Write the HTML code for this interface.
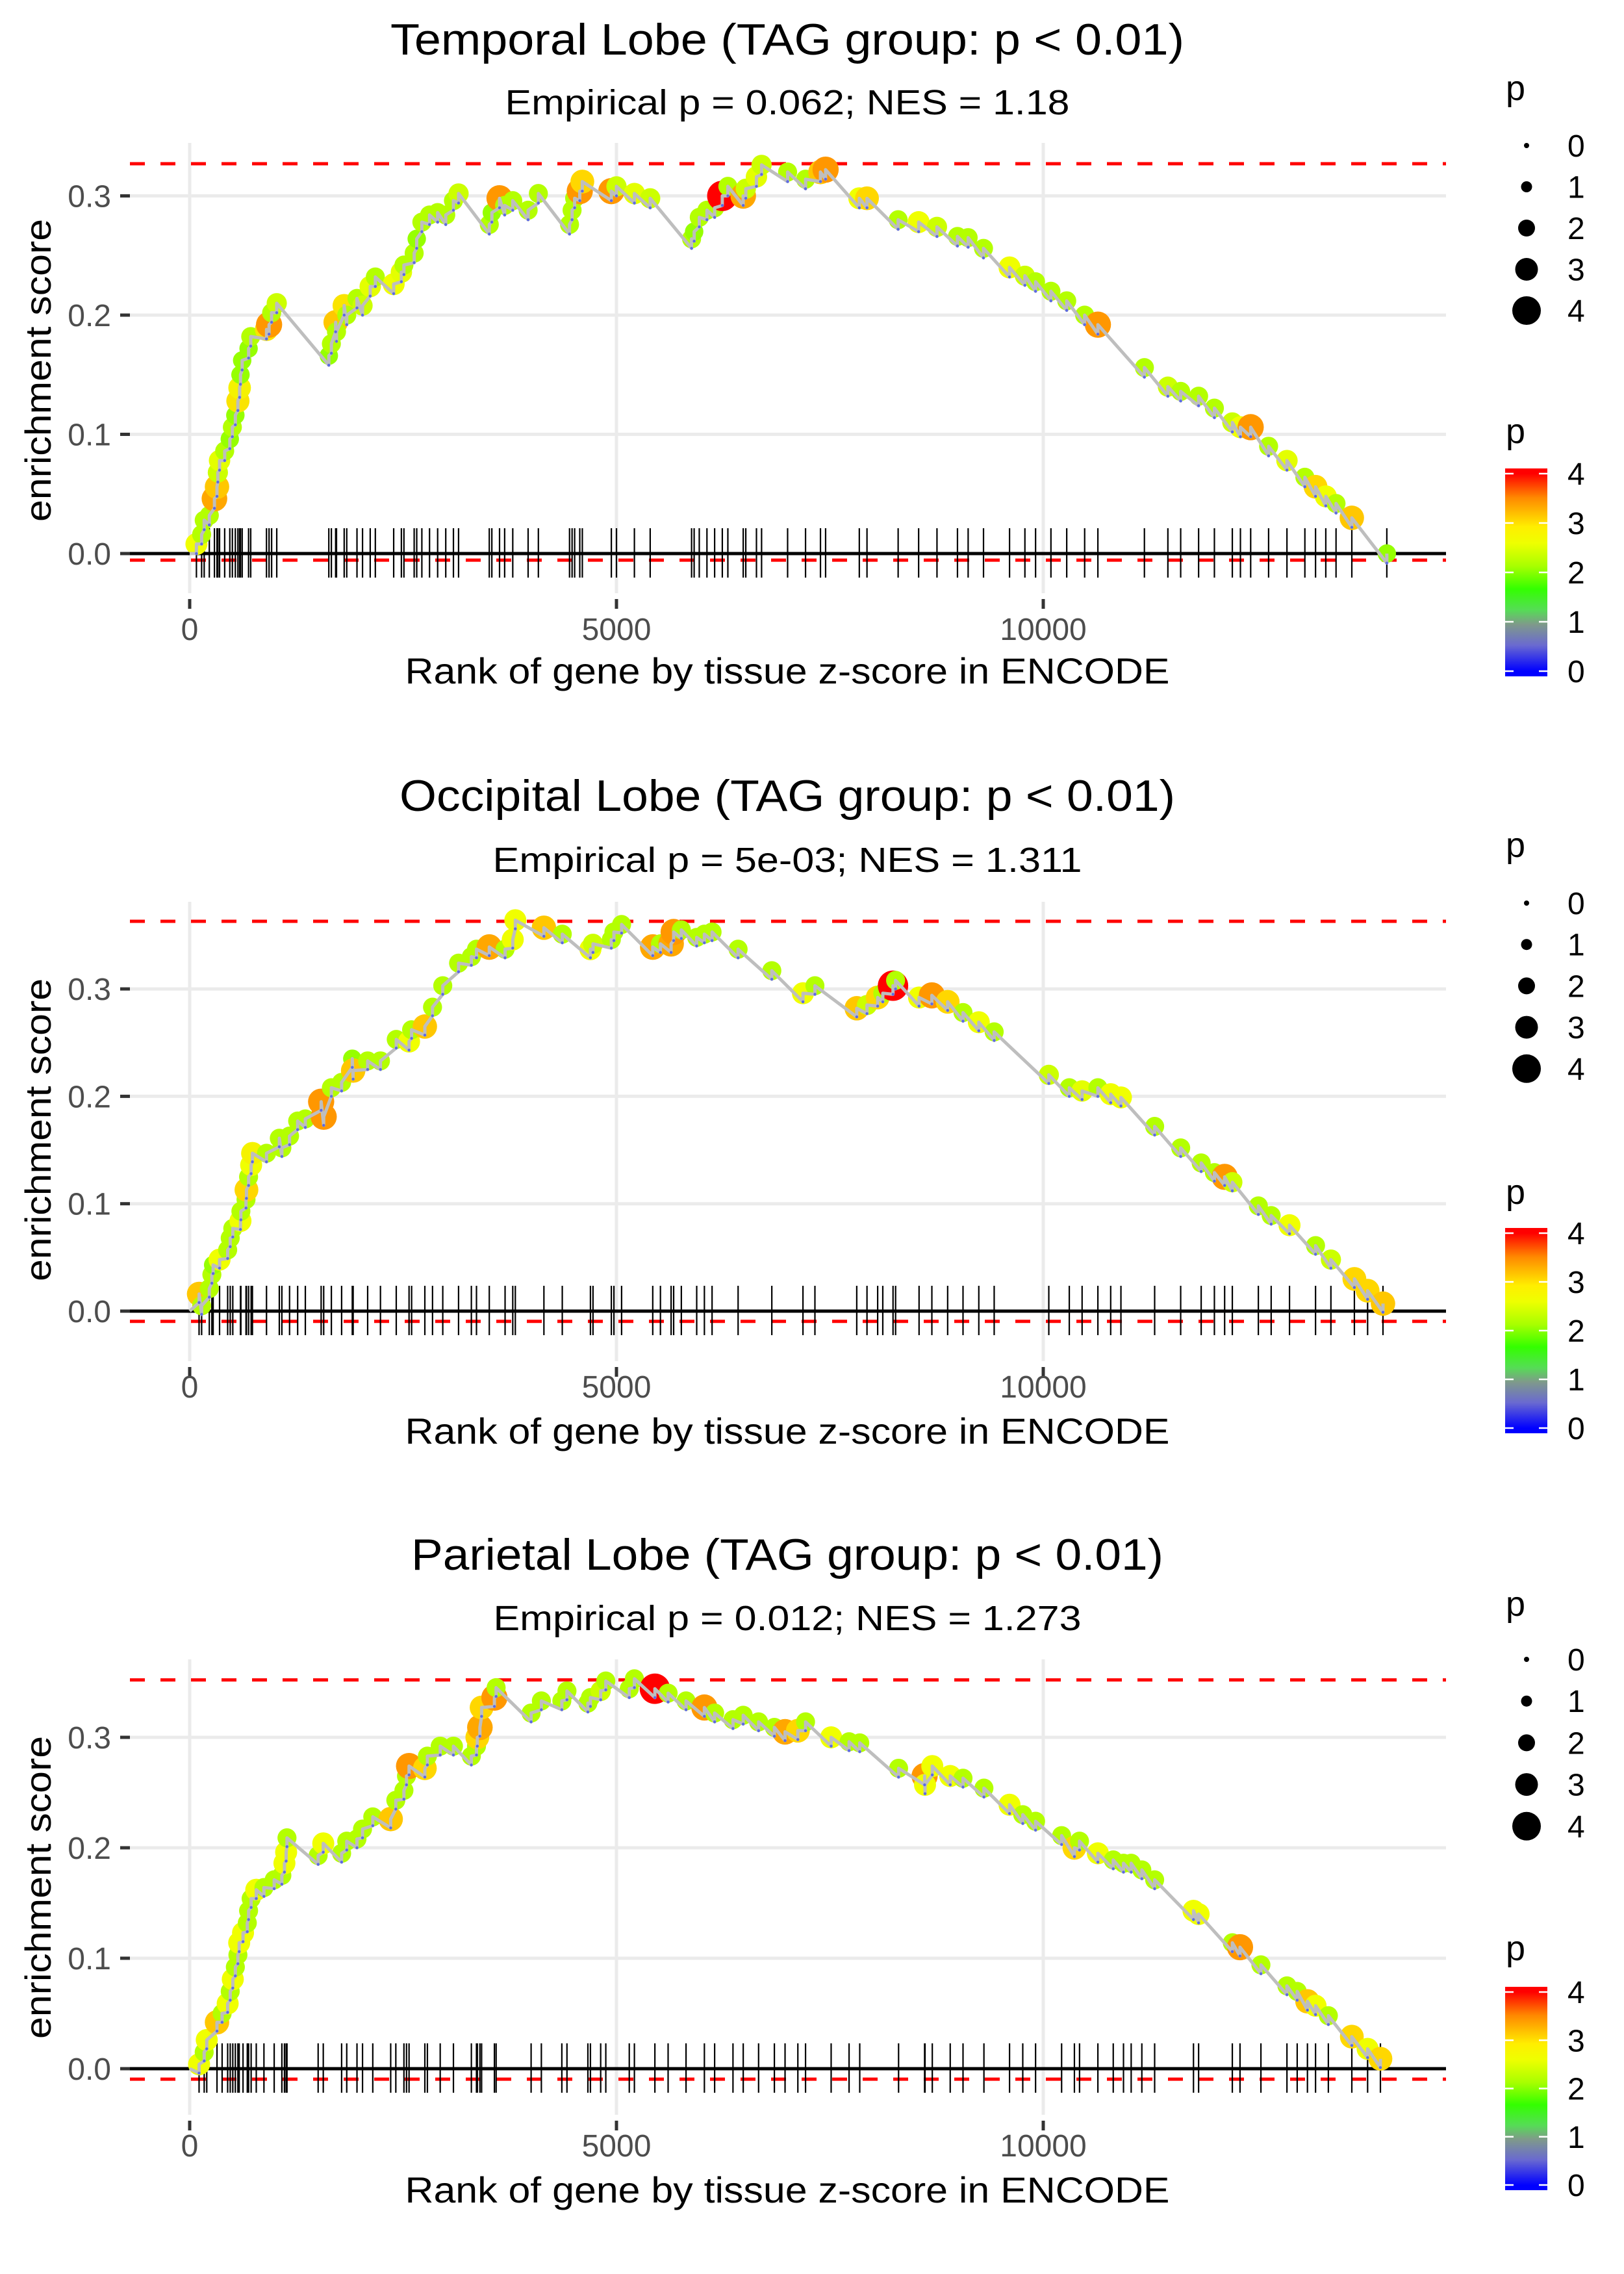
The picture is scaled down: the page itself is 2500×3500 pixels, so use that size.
<!DOCTYPE html>
<html><head><meta charset="utf-8">
<style>
html,body{margin:0;padding:0;background:#fff;}
svg{display:block;font-family:"Liberation Sans",Arial,sans-serif;}
</style></head>
<body>
<svg id="chart" width="2500" height="3500" viewBox="0 0 2500 3500" xmlns="http://www.w3.org/2000/svg">
<defs>
<linearGradient id="pgrad" x1="0" y1="1" x2="0" y2="0">
<stop offset="0.025" stop-color="#0000ff"/>
<stop offset="0.15" stop-color="#6a6ad0"/>
<stop offset="0.25" stop-color="#7f9a8a"/>
<stop offset="0.32" stop-color="#55dd55"/>
<stop offset="0.42" stop-color="#33ff00"/>
<stop offset="0.53" stop-color="#a8ff00"/>
<stop offset="0.64" stop-color="#eeff00"/>
<stop offset="0.72" stop-color="#ffee00"/>
<stop offset="0.86" stop-color="#ff8800"/>
<stop offset="0.975" stop-color="#ff0000"/>
</linearGradient>
</defs>
</svg>
<script>
// ---------- data ----------
const p1Title = "Temporal Lobe (TAG group: p < 0.01)";
const p1Sub = "Empirical p = 0.062; NES = 1.18";
const p1Ranks = [79,140,170,230,290,320,330,350,410,470,500,535,565,585,595,615,690,715,900,930,960,1020,1630,1660,1710,1720,1810,1840,1960,2025,2115,2175,2390,2480,2510,2630,2660,2720,2810,2905,3000,3090,3150,3510,3540,3630,3690,3785,3965,4085,4450,4480,4510,4570,4600,4940,5000,5210,5395,5880,5910,5970,6060,6150,6240,6305,6485,6515,6640,6700,7005,7215,7390,7450,7845,7935,8300,8540,8755,8995,9120,9300,9605,9785,9910,10090,10275,10485,10640,11185,11460,11610,11820,12005,12215,12310,12430,12640,12855,13065,13190,13310,13430,13615,14025];
const p1ES = [0.008,0.016,0.028,0.032,0.046,0.056,0.068,0.078,0.086,0.096,0.106,0.116,0.128,0.139,0.150,0.162,0.172,0.182,0.188,0.192,0.202,0.210,0.166,0.176,0.194,0.186,0.208,0.200,0.214,0.208,0.224,0.232,0.226,0.236,0.242,0.252,0.264,0.278,0.284,0.286,0.284,0.296,0.302,0.276,0.286,0.298,0.292,0.296,0.288,0.302,0.276,0.288,0.298,0.304,0.312,0.304,0.308,0.302,0.298,0.264,0.270,0.282,0.288,0.290,0.300,0.308,0.300,0.306,0.316,0.326,0.320,0.314,0.320,0.322,0.298,0.298,0.280,0.278,0.274,0.266,0.265,0.256,0.240,0.233,0.228,0.220,0.212,0.200,0.192,0.156,0.140,0.136,0.132,0.122,0.110,0.106,0.106,0.090,0.078,0.064,0.056,0.048,0.042,0.030,0.000];
const p1P = [2.6,2.1,2.1,2.1,3.2,3.0,2.3,2.5,2.1,2.0,2.1,2.0,2.8,2.7,2.0,2.0,2.0,2.1,2.8,3.3,2.1,2.3,2.0,2.1,3.0,2.1,2.8,2.1,2.1,2.3,2.5,2.1,2.6,2.5,2.1,2.1,2.0,2.1,2.1,2.1,2.1,2.1,2.3,2.1,2.0,3.3,2.1,2.1,2.1,2.1,2.1,2.1,2.1,3.3,2.9,3.3,2.3,2.5,2.3,2.1,2.0,2.1,2.1,2.1,4.0,2.1,3.2,2.3,2.5,2.3,2.1,2.1,3.0,3.3,2.6,2.9,2.1,2.6,2.3,2.1,2.1,2.1,2.6,2.3,2.1,2.1,2.1,2.1,3.3,2.1,2.3,2.1,2.1,2.1,2.3,2.6,3.3,2.1,2.5,2.1,2.9,2.6,2.1,3.0,2.0];
const p1Bounds = [0.327,-0.0055];

const p2Title = "Occipital Lobe (TAG group: p < 0.01)";
const p2Sub = "Empirical p = 5e-03; NES = 1.311";
const p2Ranks = [110,140,230,260,275,350,445,475,505,595,600,660,665,690,720,735,900,1050,1080,1170,1265,1355,1540,1570,1660,1780,1905,1915,2085,2235,2420,2570,2600,2755,2845,2965,3150,3300,3360,3510,3695,3785,3815,4150,4365,4695,4725,4940,4970,5060,5425,5515,5640,5670,5760,5940,6030,6120,6425,6820,7185,7325,7815,7935,8060,8120,8240,8270,8545,8695,8880,9060,9245,9425,10065,10305,10455,10640,10790,10910,11305,11610,11850,12005,12125,12215,12520,12670,12885,13190,13370,13645,13800,13980];
const p2ES = [0.016,0.005,0.021,0.034,0.043,0.048,0.057,0.068,0.077,0.084,0.093,0.104,0.113,0.125,0.136,0.147,0.147,0.161,0.152,0.163,0.177,0.179,0.195,0.181,0.208,0.213,0.235,0.224,0.233,0.233,0.253,0.251,0.262,0.265,0.283,0.303,0.324,0.330,0.337,0.339,0.337,0.346,0.364,0.357,0.351,0.337,0.342,0.346,0.353,0.360,0.339,0.342,0.342,0.353,0.355,0.348,0.351,0.353,0.337,0.317,0.296,0.303,0.282,0.285,0.292,0.296,0.303,0.308,0.292,0.294,0.288,0.278,0.269,0.260,0.220,0.208,0.205,0.208,0.202,0.199,0.172,0.152,0.138,0.129,0.125,0.120,0.098,0.089,0.080,0.061,0.048,0.030,0.019,0.007];
const p2P = [3.0,2.1,2.1,2.1,2.0,2.6,2.1,2.1,2.1,2.6,2.1,2.1,2.9,2.1,2.6,2.7,2.1,2.1,2.1,2.1,2.1,2.1,3.3,3.3,2.1,2.1,2.0,3.0,2.1,2.1,2.1,2.6,2.1,3.0,2.1,2.1,2.1,2.1,2.1,3.2,2.1,2.6,2.6,3.0,2.1,2.6,2.3,2.1,2.1,2.1,3.2,2.1,3.2,3.3,2.1,2.1,2.1,2.1,2.1,2.1,2.6,2.1,3.0,2.3,2.9,2.1,4.0,2.1,2.6,3.3,2.9,2.1,2.6,2.1,2.3,2.1,2.5,2.1,2.6,2.6,2.1,2.1,2.1,2.1,3.3,2.3,2.1,2.1,2.6,2.1,2.3,2.9,2.9,3.0];
const p2Bounds = [0.363,-0.0095];

const p3Title = "Parietal Lobe (TAG group: p < 0.01)";
const p3Sub = "Empirical p = 0.012; NES = 1.273";
const p3Ranks = [110,170,200,320,380,445,475,505,535,565,580,625,675,690,720,780,870,990,1080,1110,1130,1140,1505,1565,1780,1840,1960,2025,2145,2355,2415,2510,2540,2570,2755,2785,2935,3090,3300,3360,3370,3400,3420,3570,3590,4000,4120,4360,4420,4665,4695,4815,4875,5150,5210,5450,5605,5815,6030,6150,6365,6485,6665,6850,6975,7125,7215,7515,7725,7850,8305,8610,8615,8700,8910,9060,9305,9605,9760,9910,10215,10365,10425,10640,10820,10940,11030,11155,11305,11760,11820,12215,12305,12550,12855,12975,13095,13190,13340,13615,13800,13950];
const p3ES = [0.004,0.015,0.026,0.042,0.050,0.059,0.070,0.081,0.092,0.103,0.114,0.123,0.132,0.143,0.154,0.162,0.164,0.171,0.175,0.186,0.196,0.209,0.193,0.204,0.195,0.206,0.208,0.217,0.228,0.226,0.243,0.252,0.265,0.274,0.272,0.283,0.292,0.292,0.283,0.292,0.300,0.309,0.327,0.336,0.345,0.322,0.333,0.333,0.342,0.331,0.336,0.342,0.351,0.344,0.353,0.344,0.340,0.333,0.327,0.322,0.316,0.320,0.314,0.309,0.305,0.306,0.314,0.300,0.296,0.295,0.272,0.265,0.257,0.274,0.265,0.263,0.254,0.239,0.230,0.224,0.211,0.200,0.206,0.195,0.189,0.186,0.186,0.180,0.171,0.143,0.140,0.114,0.110,0.094,0.075,0.070,0.061,0.057,0.048,0.029,0.018,0.009];
const p3P = [2.6,2.1,2.6,3.0,2.1,2.6,2.1,2.6,2.1,2.1,2.6,2.6,2.1,2.1,2.1,2.6,2.1,2.1,2.1,2.6,2.6,2.1,2.1,2.6,2.1,2.1,2.1,2.1,2.1,3.0,2.1,2.1,2.1,3.3,2.9,2.1,2.1,2.1,2.1,2.1,2.9,3.2,2.9,3.3,2.1,2.1,2.1,2.1,2.1,2.1,2.1,2.3,2.1,2.1,2.1,4.0,2.1,2.1,3.3,2.1,2.1,2.1,2.1,2.1,3.2,2.9,2.1,2.6,2.1,2.1,2.1,3.3,2.6,2.6,2.6,2.1,2.1,2.6,2.1,2.1,2.1,2.9,2.1,2.6,2.1,2.1,2.1,2.1,2.1,2.6,2.6,2.1,3.3,2.1,2.1,2.1,3.0,2.6,2.1,2.9,2.6,2.9];
const p3Bounds = [0.352,-0.0095];

const yTicks = [0,0.1,0.2,0.3];
const yTickLabels = ["0.0","0.1","0.2","0.3"];
const xTicks = [0,5000,10000];
const xTickLabels = ["0","5000","10000"];
const legendValues = [0,1,2,3,4];
const jumpES = 0.008;

// ---------- layout ----------
const NS = "http://www.w3.org/2000/svg";
const svg = document.getElementById('chart');
const X0 = 292, XPX = 0.1314, PLOT_L = 200, PLOT_R = 2226, CX = 1212;
const layouts = [
 {plotTop:220,plotBottom:913,y0:852,ppu:1835,title:84,titleW:1222,sub:176,subW:869,xlab:985,xtitle:1052,ytitleC:570,legP:154,dots:224,dotStep:63.5,cbTitle:682,cbTop:721,cbBot:1041},
 {plotTop:1388,plotBottom:2095,y0:2018,ppu:1653,title:1248,titleW:1194,sub:1342,subW:907,xlab:2151,xtitle:2222,ytitleC:1739,legP:1319,dots:1390,dotStep:63.7,cbTitle:1853,cbTop:1890,cbBot:2206},
 {plotTop:2554,plotBottom:3255,y0:3184,ppu:1700,title:2416,titleW:1158,sub:2509,subW:905,xlab:3319,xtitle:3390,ytitleC:2905,legP:2487,dots:2554,dotStep:64.2,cbTitle:3017,cbTop:3058,cbBot:3371}
];
const panels = [
 {title:p1Title,sub:p1Sub,ranks:p1Ranks,es:p1ES,p:p1P,bounds:p1Bounds},
 {title:p2Title,sub:p2Sub,ranks:p2Ranks,es:p2ES,p:p2P,bounds:p2Bounds},
 {title:p3Title,sub:p3Sub,ranks:p3Ranks,es:p3ES,p:p3P,bounds:p3Bounds}
];

function mk(tag, attrs, parent){
  const e = document.createElementNS(NS, tag);
  for (const k in attrs) e.setAttribute(k, attrs[k]);
  (parent||svg).appendChild(e);
  return e;
}
function xScale(r){ return X0 + r*XPX; }
function rScale(p){ return 4 + 4.5*p; }
function ptRadius(p){ return 5 + 4.6*p; }
const cStops = [[0,[0,0,255]],[0.6,[110,110,205]],[1.0,[127,160,130]],[1.3,[60,240,60]],[1.7,[60,255,0]],[2.1,[180,255,0]],[2.6,[240,255,0]],[2.9,[255,215,0]],[3.4,[255,135,0]],[4,[255,0,0]]];
function pColor(p){
  for (let i=1;i<cStops.length;i++){
    if (p <= cStops[i][0]){
      const a=cStops[i-1], b=cStops[i], t=(p-a[0])/(b[0]-a[0]);
      const c=a[1].map((v,j)=>Math.round(v+(b[1][j]-v)*t));
      return `rgb(${c[0]},${c[1]},${c[2]})`;
    }
  }
  return 'rgb(255,0,0)';
}

panels.forEach((pd, idx) => {
  const L = layouts[idx];
  const yScale = v => L.y0 - v*L.ppu;
  const g = mk('g', {});
  
  

  const t = mk('text', {x:CX, y:L.title, 'font-size':68, 'text-anchor':'middle', textLength:L.titleW, lengthAdjust:'spacingAndGlyphs', fill:'#000'}, g);
  t.textContent = pd.title;
  
  
  const st = mk('text', {x:CX, y:L.sub, 'font-size':54, 'text-anchor':'middle', textLength:L.subW, lengthAdjust:'spacingAndGlyphs', fill:'#000'}, g);
  st.textContent = pd.sub;
  
  

  yTicks.forEach((v,i) => {
    const gl = mk('line', {x1:PLOT_L, x2:PLOT_R, y1:yScale(v), y2:yScale(v), stroke:'#ebebeb', 'stroke-width':5}, g);
    
    
    const tk = mk('line', {x1:185, x2:200, y1:yScale(v), y2:yScale(v), stroke:'#333', 'stroke-width':5}, g);
    
    
    const tl = mk('text', {x:171, y:yScale(v)+17, 'font-size':48, 'text-anchor':'end', fill:'#4d4d4d'}, g);
    tl.textContent = yTickLabels[i];
    
    
  });
  xTicks.forEach((v,i) => {
    const gl = mk('line', {x1:xScale(v), x2:xScale(v), y1:L.plotTop, y2:L.plotBottom, stroke:'#ebebeb', 'stroke-width':5}, g);
    
    
    const tk = mk('line', {x1:xScale(v), x2:xScale(v), y1:L.plotBottom+9, y2:L.plotBottom+24, stroke:'#333', 'stroke-width':5}, g);
    
    
    const tl = mk('text', {x:xScale(v), y:L.xlab, 'font-size':48, 'text-anchor':'middle', fill:'#4d4d4d'}, g);
    tl.textContent = xTickLabels[i];
    
    
  });

  const xt = mk('text', {x:CX, y:L.xtitle, 'font-size':56, 'text-anchor':'middle', textLength:1177, lengthAdjust:'spacingAndGlyphs', fill:'#000'}, g);
  xt.textContent = "Rank of gene by tissue z-score in ENCODE";
  
  
  const yt = mk('text', {x:0, y:0, 'font-size':56, 'text-anchor':'middle', textLength:466, lengthAdjust:'spacingAndGlyphs', fill:'#000', transform:`translate(78,${L.ytitleC}) rotate(-90)`}, g);
  yt.textContent = "enrichment score";
  
  

  pd.bounds.forEach((b, i) => {
    const dl = mk('line', {x1:PLOT_L, x2:PLOT_R, y1:yScale(b), y2:yScale(b), stroke:'#ff0000', 'stroke-width':5, 'stroke-dasharray':'23 24'}, g);
    
    
  });

  pd.ranks.forEach(r => {
    const rl = mk('line', {x1:xScale(r), x2:xScale(r), y1:L.y0-39, y2:L.y0+37, stroke:'#000', 'stroke-width':2.2}, g);
    
    
  });
  const zl = mk('line', {x1:PLOT_L, x2:PLOT_R, y1:yScale(0), y2:yScale(0), stroke:'#000', 'stroke-width':5}, g);
  
  

  pd.ranks.forEach((r,i) => {
    const c = mk('circle', {cx:xScale(r), cy:yScale(pd.es[i]), r:ptRadius(pd.p[i]), fill:pColor(pd.p[i])}, g);
    
    
  });

  let pts = [[xScale(0), yScale(0)]];
  pd.ranks.forEach((r,i) => {
    pts.push([xScale(r), yScale(pd.es[i]-jumpES)]);
    pts.push([xScale(r), yScale(pd.es[i])]);
  });
  const pl = mk('polyline', {points:pts.map(q=>q[0].toFixed(1)+','+q[1].toFixed(1)).join(' '), fill:'none', stroke:'#bebebe', 'stroke-width':5, 'stroke-linejoin':'round'}, g);
  
  
  pd.ranks.forEach((r,i) => {
    const d = mk('circle', {cx:xScale(r), cy:yScale(pd.es[i]-jumpES), r:2.2, fill:'#4455ee', opacity:0.8}, g);
    
    
  });

  const lt = mk('text', {x:2318, y:L.legP, 'font-size':54, fill:'#000'}, g);
  lt.textContent = 'p';
  
  
  legendValues.forEach((v,i) => {
    const cy = L.dots + i*L.dotStep;
    const c = mk('circle', {cx:2350, cy:cy, r:rScale(v), fill:'#000'}, g);
    
    
    const tx = mk('text', {x:2413, y:cy+17, 'font-size':48, fill:'#000'}, g);
    tx.textContent = String(v);
    
    
  });

  const ct = mk('text', {x:2318, y:L.cbTitle, 'font-size':54, fill:'#000'}, g);
  ct.textContent = 'p';
  
  
  const bar = mk('rect', {x:2317, y:L.cbTop, width:65, height:L.cbBot-L.cbTop, fill:'url(#pgrad)'}, g);
  
  
  const pad = 8, span = (L.cbBot-L.cbTop-2*pad)/4;
  legendValues.forEach(v => {
    const ty = L.cbBot - pad - v*span;
    mk('line', {x1:2317, x2:2330, y1:ty, y2:ty, stroke:'#fff', 'stroke-width':2.5}, g);
    mk('line', {x1:2369, x2:2382, y1:ty, y2:ty, stroke:'#fff', 'stroke-width':2.5}, g);
    const tx = mk('text', {x:2413, y:ty+17, 'font-size':48, fill:'#000'}, g);
    tx.textContent = String(v);
    
    
  });
});
</script>
</body></html>
